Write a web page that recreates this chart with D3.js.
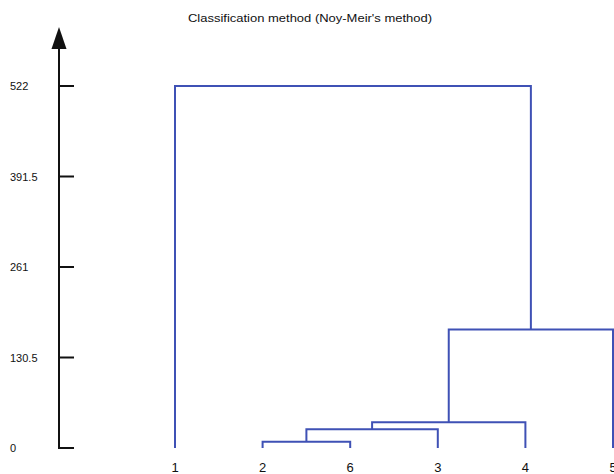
<!DOCTYPE html>
<html>
<head>
<meta charset="utf-8">
<script src="https://cdn.jsdelivr.net/npm/d3@7"></script>
<style>
  html, body { margin: 0; padding: 0; background: #fff; }
  svg { display: block; font-family: "Liberation Sans", Arial, sans-serif; }
</style>
</head>
<body>
<svg id="chart" width="614" height="474"></svg>
<script>
// Leaf order along the bottom of the dendrogram
const leafLabels = ["1", "2", "6", "3", "4", "5"];
// Each merge joins two members (leaf labels or earlier merges m1..m5) at a given height
const mergePairs = [["2", "6"], ["m1", "3"], ["m2", "4"], ["m3", "5"], ["1", "m4"]];
const mergeHeights = [9, 27, 37, 171, 522];
// Axis tick values
const tickValues = [0, 130.5, 261, 391.5, 522];
const tickLabels = ["0", "130.5", "261", "391.5", "522"];

const svg = d3.select("#chart");
const lineColor = "#3f51b5";

const x = d3.scalePoint().domain(leafLabels).range([175, 613]);
const y = d3.scaleLinear().domain([0, 522]).range([448, 86]);

// Position of every member: leaves at height 0, merges centred over their children
const nodes = {};
leafLabels.forEach(l => { nodes[l] = { x: x(l), h: 0 }; });
mergePairs.forEach((pair, i) => {
  const a = nodes[pair[0]], b = nodes[pair[1]];
  nodes["m" + (i + 1)] = { x: (a.x + b.x) / 2, h: mergeHeights[i], a, b };
});

// Title
svg.append("text")
  .attr("x", 188).attr("y", 22)
  .attr("font-size", 11)
  .attr("textLength", 244).attr("lengthAdjust", "spacingAndGlyphs")
  .attr("fill", "#111")
  .text("Classification method (Noy-Meir's method)");

// Vertical axis with arrow head
const axisX = 59;
svg.append("path")
  .attr("d", `M${axisX},48 V${y(0)} H${axisX + 15}`)
  .attr("fill", "none").attr("stroke", "#111").attr("stroke-width", 2);
svg.append("path")
  .attr("d", `M${axisX},27 L${axisX - 7.5},49 L${axisX + 7.5},49 Z`)
  .attr("fill", "#111");

const ticks = svg.append("g");
tickValues.forEach((v, i) => {
  if (v > 0) {
    ticks.append("line")
      .attr("x1", axisX).attr("x2", axisX + 15)
      .attr("y1", y(v)).attr("y2", y(v))
      .attr("stroke", "#111").attr("stroke-width", 2);
  }
  ticks.append("text")
    .attr("x", 10).attr("y", y(v) + 4)
    .attr("font-size", 11)
    .attr("fill", "#111")
    .text(tickLabels[i]);
});

// Dendrogram links
const links = svg.append("g")
  .attr("fill", "none").attr("stroke", lineColor).attr("stroke-width", 2);
mergePairs.forEach((pair, i) => {
  const n = nodes["m" + (i + 1)];
  links.append("path")
    .attr("d", `M${n.a.x},${y(n.a.h)} V${y(n.h)} H${n.b.x} V${y(n.b.h)}`);
});

// Leaf labels
svg.append("g").selectAll("text")
  .data(leafLabels)
  .join("text")
  .attr("x", d => x(d)).attr("y", 472)
  .attr("text-anchor", "middle")
  .attr("font-size", 13)
  .attr("fill", "#111")
  .text(d => d);
</script>
</body>
</html>
